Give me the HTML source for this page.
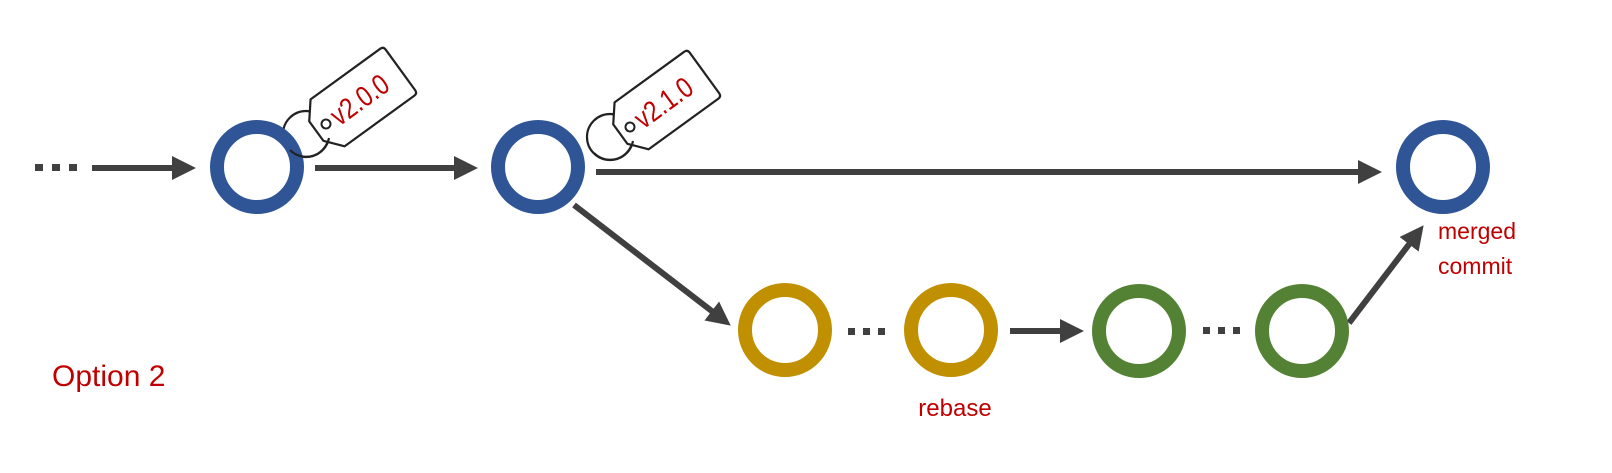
<!DOCTYPE html>
<html><head><style>
html,body{margin:0;padding:0;background:#fff;width:1612px;height:473px;overflow:hidden}
svg{display:block}
text{font-family:"Liberation Sans",sans-serif}
</style></head><body>
<svg width="1612" height="473" viewBox="0 0 1612 473">
<defs>
<marker id="ah" markerWidth="4" markerHeight="4" refX="3" refY="2" orient="auto" markerUnits="strokeWidth">
<path d="M0,0 L4,2 L0,4 z" fill="#404040"/>
</marker>
</defs>
<g fill="#404040">
<rect x="35" y="164" width="8" height="7"/><rect x="52" y="164" width="8" height="7"/><rect x="69" y="164" width="8" height="7"/>
<rect x="848" y="328" width="7" height="7"/><rect x="863" y="328" width="7" height="7"/><rect x="878" y="328" width="7" height="7"/>
<rect x="1203" y="327" width="7" height="7"/><rect x="1218" y="327" width="7" height="7"/><rect x="1233" y="327" width="7" height="7"/>
</g>
<g stroke="#404040" stroke-width="6" fill="none" marker-end="url(#ah)">
<line x1="92" y1="168" x2="190" y2="168"/>
<line x1="315" y1="168" x2="472" y2="168"/>
<line x1="596" y1="172" x2="1376" y2="172"/>
<line x1="574" y1="205" x2="726" y2="322"/>
<line x1="1010" y1="331" x2="1078" y2="331"/>
<line x1="1349" y1="323" x2="1420" y2="230"/>
</g>
<circle cx="306" cy="134" r="23" fill="none" stroke="#222" stroke-width="2.2"/>
<circle cx="610" cy="137" r="23" fill="none" stroke="#222" stroke-width="2.2"/>
<g stroke-width="14" fill="none">
<circle cx="257" cy="167" r="40" stroke="#2f5597"/>
<circle cx="538" cy="167" r="40" stroke="#2f5597"/>
<circle cx="1443" cy="167" r="40" stroke="#2f5597"/>
<circle cx="785" cy="330" r="40" stroke="#c09000"/>
<circle cx="951" cy="330" r="40" stroke="#c09000"/>
<circle cx="1139" cy="331" r="40" stroke="#548235"/>
<circle cx="1302" cy="331" r="40" stroke="#548235"/>
</g>
<g transform="translate(326,124) rotate(-36)">
<path d="M-12,-12 L2,-29 L88,-29 Q92,-29 92,-25 L92,25 Q92,29 88,29 L2,29 L-12,12 Z" fill="#fff" stroke="#222" stroke-width="2.2" stroke-linejoin="round"/>
<circle cx="0" cy="0" r="4.5" fill="none" stroke="#222" stroke-width="2"/>
<text transform="translate(9,10) scale(0.82,1)" font-size="29" fill="#c00000">v2.0.0</text>
</g>
<g transform="translate(630,127) rotate(-36)">
<path d="M-12,-12 L2,-29 L88,-29 Q92,-29 92,-25 L92,25 Q92,29 88,29 L2,29 L-12,12 Z" fill="#fff" stroke="#222" stroke-width="2.2" stroke-linejoin="round"/>
<circle cx="0" cy="0" r="4.5" fill="none" stroke="#222" stroke-width="2"/>
<text transform="translate(9,10) scale(0.82,1)" font-size="29" fill="#c00000">v2.1.0</text>
</g>
<path d="M290,150 A23,23 0 0 0 329,138" fill="none" stroke="#222" stroke-width="2.2"/>
<path d="M594,153 A23,23 0 0 0 633,141" fill="none" stroke="#222" stroke-width="2.2"/>
<text x="52" y="386" font-size="30" fill="#c00000">Option 2</text>
<text x="955" y="416" font-size="24" fill="#c00000" text-anchor="middle">rebase</text>
<text x="1438" y="239" font-size="23" fill="#c00000">merged</text>
<text x="1438" y="274" font-size="23" fill="#c00000">commit</text>
</svg>
</body></html>
